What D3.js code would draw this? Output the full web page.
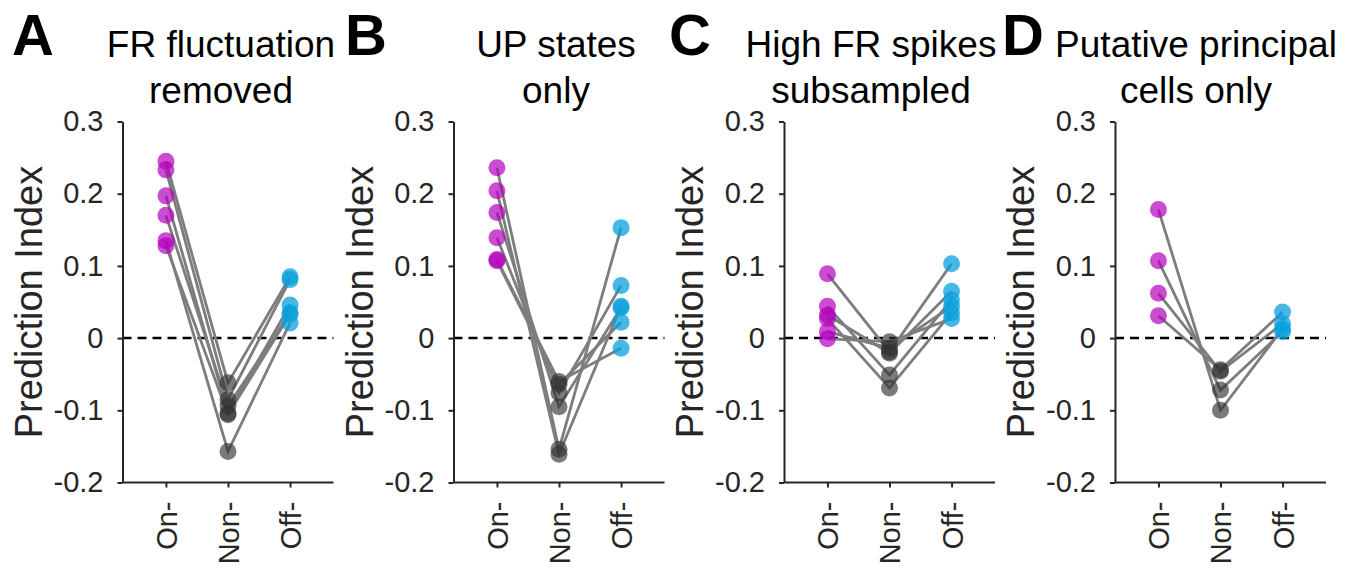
<!DOCTYPE html>
<html>
<head>
<meta charset="utf-8">
<script src="https://cdn.jsdelivr.net/npm/d3@7"></script>
<style>
  body { margin: 0; background: #fff; }
  svg { display: block; font-family: "Liberation Sans", Arial, Helvetica, sans-serif; }
  .axis path, .axis line { stroke: #262626; stroke-width: 2; }
  .axis text { fill: #262626; font-size: 29px; }
</style>
</head>
<body>
<div class="app"></div>
<script>
'use strict'

// categories and tick labels
var groups = ["On-", "Non-", "Off-"];
var yTicks = [-0.2, -0.1, 0, 0.1, 0.2, 0.3];
var yTickLabels = ["-0.2", "-0.1", "0", "0.1", "0.2", "0.3"];
var panelLetters = ["A", "B", "C", "D"];
var panelTitles = [
  ["FR fluctuation", "removed"],
  ["UP states", "only"],
  ["High FR spikes", "subsampled"],
  ["Putative principal", "cells only"]
];

// values per panel, one entry per unit (On-, Non-, Off- share the index)
var onA  = [0.245, 0.233, 0.197, 0.170, 0.135, 0.128];
var nonA = [-0.062, -0.085, -0.104, -0.094, -0.157, -0.106];
var offA = [0.085, 0.081, 0.046, 0.035, 0.021, 0.033];

var onB  = [0.236, 0.204, 0.174, 0.139, 0.109, 0.107];
var nonB = [-0.154, -0.161, -0.095, -0.076, -0.060, -0.064];
var offB = [0.153, 0.044, 0.042, 0.073, -0.014, 0.022];

var onC  = [0.089, 0.044, 0.032, 0.027, 0.009, -0.001];
var nonC = [-0.019, -0.051, -0.021, -0.069, -0.014, -0.005];
var offC = [0.103, 0.053, 0.065, 0.035, 0.044, 0.027];

var onD  = [0.178, 0.107, 0.062, 0.031];
var nonD = [-0.100, -0.072, -0.046, -0.044];
var offD = [0.013, 0.009, 0.020, 0.036];

var panelData = [
  [onA, nonA, offA],
  [onB, nonB, offB],
  [onC, nonC, offC],
  [onD, nonD, offD]
];

var groupColors = ["#b400bc", "#333333", "#0aa0dc"];
var groupOpacity = [0.7, 0.65, 0.75];

// layout
var panelLeft = [122.5, 453.5, 784, 1115];
var panelTop = 121.5;
var width = 211;
var height = 361;
var letterX = [12, 345, 669, 1002];
var titleX = [221, 556, 871, 1196];

var svg = d3.select(".app")
  .append("svg")
  .attr("width", 1358)
  .attr("height", 570);

var x = d3.scaleLinear().domain([0.3, 3.7]).range([0, width]);
var y = d3.scaleLinear().domain([-0.2, 0.3]).range([height, 0]);

panelData.forEach(function(series, p) {

  var g = svg.append("g")
    .attr("transform", "translate(" + panelLeft[p] + "," + panelTop + ")");

  // dashed zero line
  g.append("line")
    .attr("x1", 0)
    .attr("x2", width)
    .attr("y1", y(0))
    .attr("y2", y(0))
    .attr("stroke", "#000")
    .attr("stroke-width", 2.5)
    .attr("stroke-dasharray", "9,6");

  // connecting lines, one per unit
  var units = series[0].map(function(d, i) {
    return series.map(function(s, k) { return { g: k + 1, v: s[i] }; });
  });

  var line = d3.line()
    .x(function(d) { return x(d.g); })
    .y(function(d) { return y(d.v); });

  g.selectAll(".unit")
    .data(units)
    .enter()
    .append("path")
    .attr("class", "unit")
    .attr("d", line)
    .attr("fill", "none")
    .attr("stroke", "#7d7d7d")
    .attr("stroke-width", 2.8);

  // points
  series.forEach(function(s, k) {
    g.selectAll(".pt" + k)
      .data(s)
      .enter()
      .append("circle")
      .attr("class", "pt" + k)
      .attr("cx", x(k + 1))
      .attr("cy", function(d) { return y(d); })
      .attr("r", 8.5)
      .attr("fill", groupColors[k])
      .attr("fill-opacity", groupOpacity[k]);
  });

  // axes
  var yAxis = d3.axisLeft(y)
    .tickValues(yTicks)
    .tickFormat(function(d, i) { return yTickLabels[i]; })
    .tickSize(5)
    .tickSizeOuter(0)
    .tickPadding(14);

  g.append("g")
    .attr("class", "axis")
    .call(yAxis);

  var xAxis = d3.axisBottom(x)
    .tickValues([1, 2, 3])
    .tickFormat(function(d, i) { return groups[i]; })
    .tickSize(5)
    .tickSizeOuter(0);

  var xg = g.append("g")
    .attr("class", "axis")
    .attr("transform", "translate(0," + height + ")")
    .call(xAxis);

  xg.select(".domain").attr("d", "M0,0H" + width);

  xg.selectAll(".tick text")
    .attr("transform", "rotate(-90)")
    .attr("x", -19)
    .attr("y", 0)
    .attr("dy", "0.36em")
    .attr("text-anchor", "end");

  // y label
  g.append("text")
    .attr("transform", "rotate(-90)")
    .attr("x", -height / 2)
    .attr("y", -81)
    .attr("text-anchor", "middle")
    .attr("font-size", 38)
    .attr("fill", "#262626")
    .text("Prediction Index");

  // panel letter
  svg.append("text")
    .attr("x", letterX[p])
    .attr("y", 55)
    .attr("font-size", 58)
    .attr("font-weight", "bold")
    .attr("fill", "#000")
    .text(panelLetters[p]);

  // title, two lines
  panelTitles[p].forEach(function(t, j) {
    svg.append("text")
      .attr("x", titleX[p])
      .attr("y", 57 + j * 46)
      .attr("text-anchor", "middle")
      .attr("font-size", 37)
      .attr("fill", "#000")
      .text(t);
  });
});
</script>
</body>
</html>
